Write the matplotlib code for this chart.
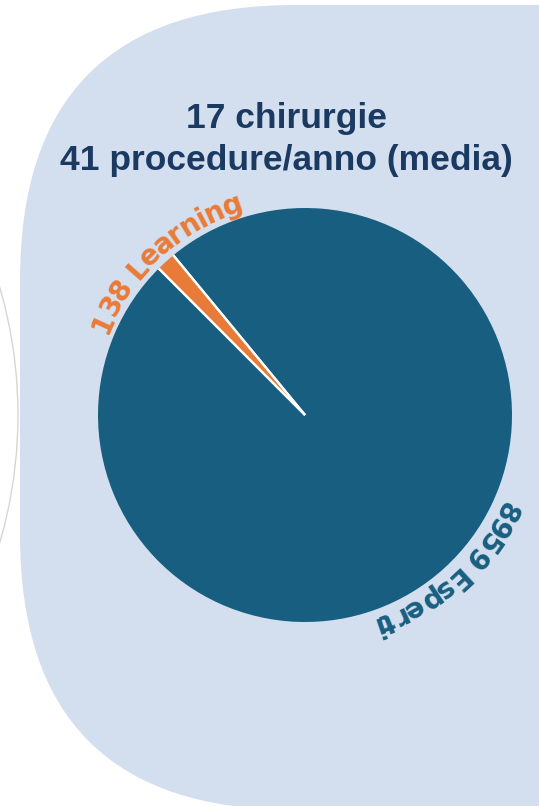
import matplotlib
matplotlib.use('Agg')
import matplotlib.pyplot as plt
from matplotlib.patches import FancyBboxPatch, Arc
from matplotlib.font_manager import FontProperties
from matplotlib.textpath import TextToPath
import numpy as np

# dati
categorie = ['Learning', 'Esperti']
procedure = [138, 8959]
titolo = ['17 chirurgie', '41 procedure/anno (media)']

# colori
c_bg = '#D3DFEF'
c_pie = ['#E97B38', '#185E80']
c_title = '#1B3A61'

W, H, DPI = 539, 806, 100
fig = plt.figure(figsize=(W / DPI, H / DPI), dpi=DPI)
ax = fig.add_axes([0, 0, 1, 1])

# sfondo: rettangolo arrotondato azzurro + arco grigio a sinistra
bg = FancyBboxPatch((20, H - 810), 900, 805,
                    boxstyle="round,pad=0,rounding_size=275",
                    facecolor=c_bg, edgecolor='none', zorder=0)
ax.add_patch(bg)
ax.add_patch(Arc((-439, H - 415), 2 * 457, 2 * 457, theta1=-25, theta2=25,
                 color='#D6D6D6', lw=1.0, zorder=0))

# torta
cx, cy, R = 305, H - 415, 207
wedges, _ = ax.pie(procedure, colors=c_pie, startangle=129.5, counterclock=True,
                   center=(cx, cy), radius=R, wedgeprops=dict(linewidth=0))
# linee bianche di separazione
for w in wedges:
    for t in (w.theta1, w.theta2):
        a = np.deg2rad(t)
        ax.plot([cx, cx + R * np.cos(a)], [cy, cy + R * np.sin(a)],
                color='white', lw=1.6, solid_capstyle='butt', zorder=3)

# etichette curve
ttp = TextToPath()
prop = FontProperties(family='DejaVu Sans', weight='bold', size=20)
track = 0.93


def adv(ch):
    w1 = ttp.get_text_width_height_descent('|' + ch + '|', prop, ismath=False)[0]
    w0 = ttp.get_text_width_height_descent('||', prop, ismath=False)[0]
    return (w1 - w0) * DPI / 72.0 * track


def curved_text(text, theta_mid, r, color):
    a = [adv(ch) for ch in text]
    total = sum(a)
    s = -total / 2
    for ch, w in zip(text, a):
        pos = s + w / 2
        s += w
        th = np.deg2rad(theta_mid) - pos / r
        ax.text(cx + r * np.cos(th), cy + r * np.sin(th), ch, fontproperties=prop,
                color=color, rotation=np.rad2deg(th) - 90, rotation_mode='anchor',
                ha='center', va='baseline', zorder=4)


for w, n, lab, col in zip(wedges, procedure, categorie, c_pie):
    mid = (w.theta1 + w.theta2) / 2
    curved_text(f'{n} {lab}', mid, R + 7, col)

# titolo
ax.text(286, H - 128, titolo[0], ha='center', va='baseline', fontsize=25.5,
        weight='bold', color=c_title, family='Liberation Sans')
ax.text(286, H - 170, titolo[1], ha='center', va='baseline', fontsize=25.5,
        weight='bold', color=c_title, family='Liberation Sans')

ax.set_xlim(0, W)
ax.set_ylim(0, H)
ax.set_aspect('equal')
ax.axis('off')

fig.savefig('out.png', dpi=DPI, facecolor='white')
plt.close()
